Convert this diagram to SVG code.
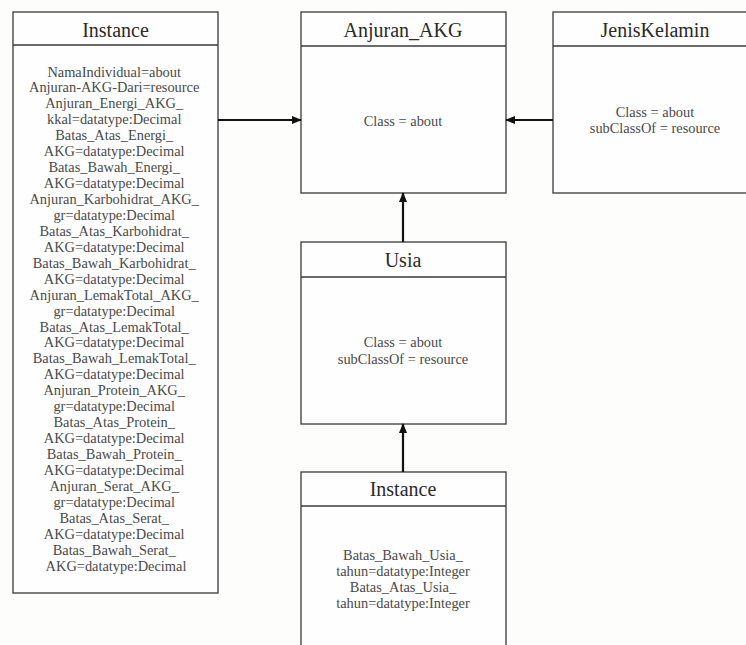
<svg xmlns="http://www.w3.org/2000/svg" width="746" height="645" viewBox="0 0 746 645">
<style>
.box{fill:#fefefe;stroke:#3a3a3a;stroke-width:1.3}
.div{stroke:#3a3a3a;stroke-width:1.3}
.hd{font-family:"Liberation Serif","Times New Roman",serif;font-size:20px;fill:#2a2a2a;text-anchor:middle}
.bd{font-family:"Liberation Serif","Times New Roman",serif;font-size:14.4px;fill:#4a4a4a;text-anchor:middle}
.edge{stroke:#111;stroke-width:2.2;fill:none;marker-end:url(#ah)}
</style>
<defs>
<marker id="ah" markerWidth="10" markerHeight="10" refX="9" refY="5" orient="auto" markerUnits="userSpaceOnUse">
<path d="M0,1 L10,5 L0,9 Z" fill="#111"/>
</marker>
</defs>
<rect width="746" height="645" fill="#fdfdfc"/>
<g id="instance1">
<rect class="box" x="13" y="12" width="205" height="581"/>
<line class="div" x1="13" y1="45" x2="218" y2="45"/>
<text class="hd" x="115.5" y="37">Instance</text>
<text class="bd" x="116">
<tspan x="116" y="76.5">NamaIndividual=about</tspan>
<tspan x="116" dy="15.94">Anjuran-AKG-Dari=resource</tspan>
<tspan x="116" dy="15.94">Anjuran_Energi_AKG_</tspan>
<tspan x="116" dy="15.94">kkal=datatype:Decimal</tspan>
<tspan x="116" dy="15.94">Batas_Atas_Energi_</tspan>
<tspan x="116" dy="15.94">AKG=datatype:Decimal</tspan>
<tspan x="116" dy="15.94">Batas_Bawah_Energi_</tspan>
<tspan x="116" dy="15.94">AKG=datatype:Decimal</tspan>
<tspan x="116" dy="15.94">Anjuran_Karbohidrat_AKG_</tspan>
<tspan x="116" dy="15.94">gr=datatype:Decimal</tspan>
<tspan x="116" dy="15.94">Batas_Atas_Karbohidrat_</tspan>
<tspan x="116" dy="15.94">AKG=datatype:Decimal</tspan>
<tspan x="116" dy="15.94">Batas_Bawah_Karbohidrat_</tspan>
<tspan x="116" dy="15.94">AKG=datatype:Decimal</tspan>
<tspan x="116" dy="15.94">Anjuran_LemakTotal_AKG_</tspan>
<tspan x="116" dy="15.94">gr=datatype:Decimal</tspan>
<tspan x="116" dy="15.94">Batas_Atas_LemakTotal_</tspan>
<tspan x="116" dy="15.94">AKG=datatype:Decimal</tspan>
<tspan x="116" dy="15.94">Batas_Bawah_LemakTotal_</tspan>
<tspan x="116" dy="15.94">AKG=datatype:Decimal</tspan>
<tspan x="116" dy="15.94">Anjuran_Protein_AKG_</tspan>
<tspan x="116" dy="15.94">gr=datatype:Decimal</tspan>
<tspan x="116" dy="15.94">Batas_Atas_Protein_</tspan>
<tspan x="116" dy="15.94">AKG=datatype:Decimal</tspan>
<tspan x="116" dy="15.94">Batas_Bawah_Protein_</tspan>
<tspan x="116" dy="15.94">AKG=datatype:Decimal</tspan>
<tspan x="116" dy="15.94">Anjuran_Serat_AKG_</tspan>
<tspan x="116" dy="15.94">gr=datatype:Decimal</tspan>
<tspan x="116" dy="15.94">Batas_Atas_Serat_</tspan>
<tspan x="116" dy="15.94">AKG=datatype:Decimal</tspan>
<tspan x="116" dy="15.94">Batas_Bawah_Serat_</tspan>
<tspan x="116" dy="15.94">AKG=datatype:Decimal</tspan>
</text>
</g>
<g id="anjuran_akg">
<rect class="box" x="301" y="12" width="205" height="181"/>
<line class="div" x1="301" y1="46" x2="506" y2="46"/>
<text class="hd" x="403" y="37">Anjuran_AKG</text>
<text class="bd" x="403" y="126">Class = about</text>
</g>
<g id="jeniskelamin">
<rect class="box" x="553" y="12" width="204" height="181"/>
<line class="div" x1="553" y1="46" x2="757" y2="46"/>
<text class="hd" x="655" y="37">JenisKelamin</text>
<text class="bd" x="655" y="117">Class = about</text>
<text class="bd" x="655" y="133">subClassOf = resource</text>
</g>
<g id="usia">
<rect class="box" x="301" y="242" width="205" height="182"/>
<line class="div" x1="301" y1="277" x2="506" y2="277"/>
<text class="hd" x="403" y="267">Usia</text>
<text class="bd" x="403" y="347">Class = about</text>
<text class="bd" x="403" y="364">subClassOf = resource</text>
</g>
<g id="instance2">
<rect class="box" x="301" y="472" width="205" height="200"/>
<line class="div" x1="301" y1="506" x2="506" y2="506"/>
<text class="hd" x="403" y="496">Instance</text>
<text class="bd" x="403" y="560">Batas_Bawah_Usia_</text>
<text class="bd" x="403" y="576">tahun=datatype:Integer</text>
<text class="bd" x="403" y="592">Batas_Atas_Usia_</text>
<text class="bd" x="403" y="608">tahun=datatype:Integer</text>
</g>
<g id="connectors">
<line class="edge" x1="218" y1="120" x2="301" y2="120"/>
<line class="edge" x1="553" y1="120" x2="506" y2="120"/>
<line class="edge" x1="403" y1="242" x2="403" y2="193"/>
<line class="edge" x1="403" y1="472" x2="403" y2="424"/>
</g>
</svg>
